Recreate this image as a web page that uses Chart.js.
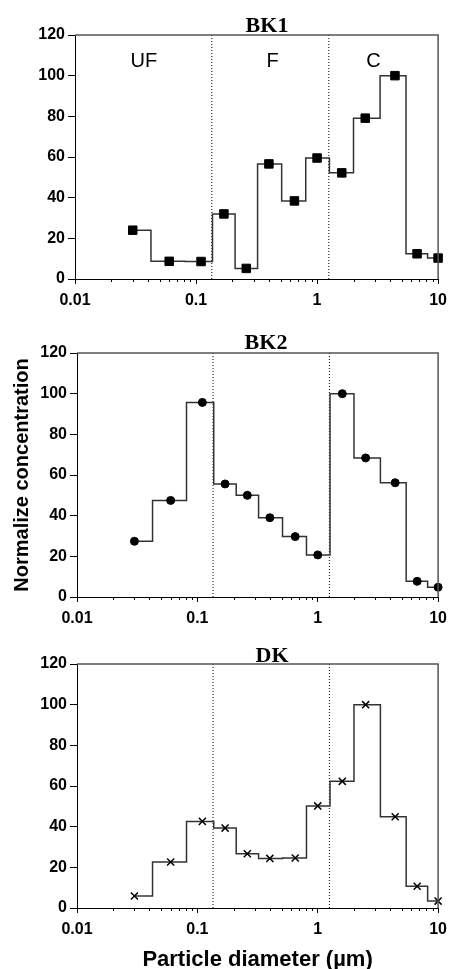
<!DOCTYPE html>
<html>
<head>
<meta charset="utf-8">
<script src="https://cdn.jsdelivr.net/npm/chart.js@4.4.1/dist/chart.umd.min.js"></script>
<style>
  html, body { margin: 0; padding: 0; background: #fff; }
  body { width: 454px; height: 969px; position: relative; overflow: hidden; }
  .panel { position: absolute; left: 0; width: 454px; }
</style>
</head>
<body>
<div class="panel" style="top:0"><canvas id="bk1" width="454" height="320"></canvas></div>
<div class="panel" style="top:320px"><canvas id="bk2" width="454" height="320"></canvas></div>
<div class="panel" style="top:640px"><canvas id="dk" width="454" height="329"></canvas></div>
<script>
// stage diameters (um) and normalized concentrations per site
const diameters = [0.03, 0.06, 0.11, 0.17, 0.26, 0.40, 0.65, 1.0, 1.6, 2.5, 4.4, 6.7, 10];
const bk1Values = [24, 8.7, 8.6, 32, 5.2, 56.6, 38.4, 59.5, 52.2, 79.1, 100, 12.4, 10.3];
const bk2Values = [27.4, 47.5, 95.7, 55.6, 50, 39, 29.7, 20.7, 100, 68.4, 56.2, 7.7, 4.8];
const dkValues = [5.9, 22.6, 42.6, 39.3, 26.7, 24.4, 24.6, 50.2, 62.3, 100, 44.9, 10.7, 3.4];

// size-range boundaries and their labels
const cutSizes = [0.135, 1.25];
const regionLabels = ['UF', 'F', 'C'];
const regionX = [0.037, 0.43, 2.93];

const xMajorTicks = [0.01, 0.1, 1, 10];
const xMinorTicks = [0.02, 0.03, 0.04, 0.05, 0.06, 0.07, 0.08, 0.09,
                     0.2, 0.3, 0.4, 0.5, 0.6, 0.7, 0.8, 0.9,
                     2, 3, 4, 5, 6, 7, 8, 9];

const sansFont = "'Liberation Sans', Arial, sans-serif";

// frame, minor ticks, panel title and region labels
const panelDecor = {
  id: 'panelDecor',
  afterDraw(chart, args, opts) {
    const { ctx, chartArea: a, scales: { x, y } } = chart;
    ctx.save();
    ctx.strokeStyle = '#555';
    ctx.lineWidth = 1.5;
    ctx.beginPath();
    ctx.moveTo(a.left, a.top);
    ctx.lineTo(a.right, a.top);
    ctx.lineTo(a.right, a.bottom);
    ctx.stroke();

    ctx.strokeStyle = '#000';
    ctx.lineWidth = 1;
    xMinorTicks.forEach(v => {
      const px = Math.round(x.getPixelForValue(v)) + 0.5;
      ctx.beginPath();
      ctx.moveTo(px, a.bottom);
      ctx.lineTo(px, a.bottom + 3);
      ctx.stroke();
    });

    ctx.fillStyle = '#000';
    ctx.font = "bold 22px 'Liberation Serif', 'Times New Roman', serif";
    ctx.textAlign = 'center';
    ctx.textBaseline = 'alphabetic';
    ctx.fillText(opts.title, opts.titleX, opts.titleY);

    if (opts.regions) {
      ctx.font = '20px ' + sansFont;
      regionLabels.forEach((lbl, i) => {
        ctx.fillText(lbl, x.getPixelForValue(regionX[i]), y.getPixelForValue(104.5));
      });
    }
    ctx.restore();
  }
};

function makePanel(id, cfg) {
  const tickFont = { family: sansFont, weight: 'bold', size: 16 };
  const ctx = document.getElementById(id).getContext('2d');
  return new Chart(ctx, {
    type: 'line',
    data: {
      datasets: [
        {
          data: diameters.map((d, i) => ({ x: d, y: cfg.values[i] })),
          stepped: 'middle',
          borderColor: '#333',
          borderWidth: 1.5,
          pointStyle: cfg.pointStyle,
          pointRadius: cfg.pointRadius,
          pointBorderWidth: cfg.pointBorderWidth,
          pointBackgroundColor: '#000',
          pointBorderColor: '#000',
          clip: false
        },
        ...cutSizes.map(c => ({
          data: [{ x: c, y: 0 }, { x: c, y: 120 }],
          borderColor: '#000',
          borderWidth: 1,
          borderDash: [1, 2],
          pointRadius: 0
        }))
      ]
    },
    options: {
      responsive: false,
      animation: false,
      layout: { padding: cfg.padding },
      plugins: {
        legend: { display: false },
        tooltip: { enabled: false },
        panelDecor: { title: cfg.title, titleX: cfg.titleX, titleY: cfg.titleY, regions: cfg.regions }
      },
      scales: {
        x: {
          type: 'logarithmic',
          min: 0.01,
          max: 10,
          afterBuildTicks: s => { s.ticks = xMajorTicks.map(v => ({ value: v, major: true })); },
          afterFit: s => { s.height = cfg.xHeight; },
          ticks: {
            autoSkip: false, maxRotation: 0, color: '#000', font: tickFont, padding: 7,
            callback: v => String(v)
          },
          grid: { drawOnChartArea: false, tickLength: 5, tickColor: '#000', tickWidth: 1 },
          border: { color: '#000', width: 1, dash: [2, 2] },
          title: cfg.xTitle ? {
            display: true, text: 'Particle diameter (µm)', color: '#000',
            font: { family: sansFont, weight: 'bold', size: 22, lineHeight: 0.86 },
            padding: 0
          } : { display: false }
        },
        y: {
          min: 0,
          max: 120,
          afterFit: s => { s.width = cfg.yWidth; },
          ticks: { stepSize: 20, color: '#000', font: tickFont, padding: 3 },
          grid: { drawOnChartArea: false, tickLength: 7, tickColor: '#000', tickWidth: 1 },
          border: { color: '#000', width: 1, dash: [2, 2] },
          title: cfg.yTitle ? {
            display: true, text: 'Normalize concentration', color: '#000',
            font: { family: sansFont, weight: 'bold', size: 20, lineHeight: 1.2 },
            padding: { top: 10, bottom: 0 }
          } : { display: false }
        }
      }
    },
    plugins: [panelDecor]
  });
}

makePanel('bk1', {
  values: bk1Values, pointStyle: 'rect', pointRadius: 6, pointBorderWidth: 1,
  padding: { left: 0, right: 12, top: 35, bottom: 11 }, xHeight: 30, yWidth: 75,
  title: 'BK1', titleX: 267, titleY: 31.5, regions: true
});

makePanel('bk2', {
  values: bk2Values, pointStyle: 'circle', pointRadius: 4, pointBorderWidth: 1,
  padding: { left: 0, right: 11, top: 33, bottom: 13 }, xHeight: 30, yWidth: 77,
  title: 'BK2', titleX: 266, titleY: 29, yTitle: true
});

makePanel('dk', {
  values: dkValues, pointStyle: 'crossRot', pointRadius: 5, pointBorderWidth: 1.5,
  padding: { left: 0, right: 11, top: 24, bottom: 0 }, xHeight: 61, yWidth: 77,
  title: 'DK', titleX: 272, titleY: 21.5, xTitle: true
});
</script>
</body>
</html>
